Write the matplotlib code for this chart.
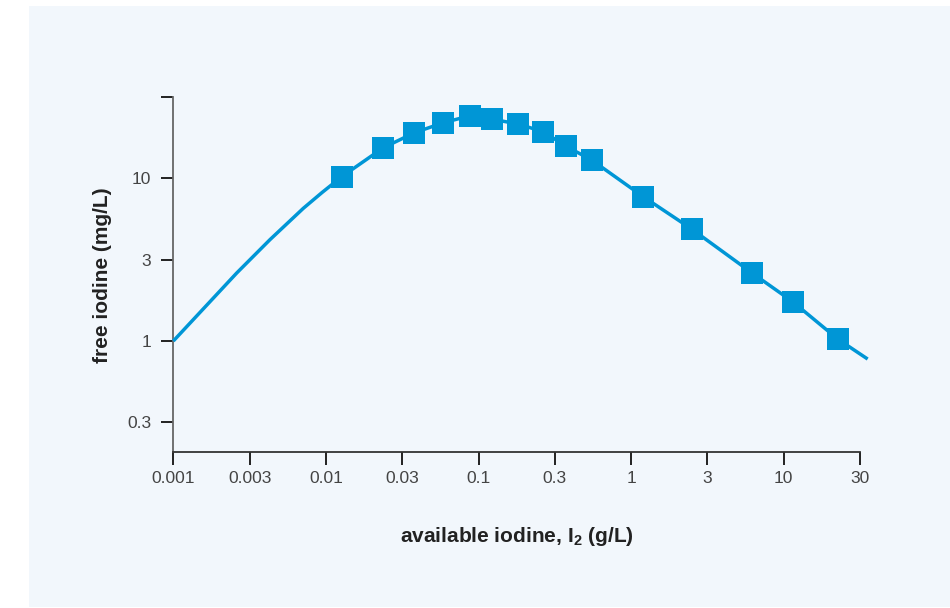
import matplotlib
matplotlib.use("Agg")
import matplotlib.pyplot as plt
from matplotlib.patches import Rectangle
import numpy as np

# ---- data ----
marker_x = [0.01269, 0.02377, 0.03796, 0.05878, 0.08795, 0.1221, 0.1823,
            0.2659, 0.3727, 0.5518, 1.202, 2.495, 6.170, 11.46, 22.59]
marker_y = [10.23, 15.42, 19.06, 21.97, 24.25, 23.14, 21.56,
            19.34, 15.79, 12.96, 7.71, 4.88, 2.63, 1.744, 1.029]

curve_x = [0.001, 0.002604, 0.004301, 0.007108, 0.00943] + marker_x + [35.5]
curve_y = [1.00, 2.62, 4.20, 6.54, 8.18] + marker_y + [0.775]

x_ticks = [0.001, 0.003, 0.01, 0.03, 0.1, 0.3, 1, 3, 10, 30]
x_tick_labels = ["0.001", "0.003", "0.01", "0.03", "0.1", "0.3", "1", "3", "10", "30"]
y_ticks = [0.3, 1, 3, 10, 30]
y_tick_labels = ["0.3", "1", "3", "10", ""]

# ---- style ----
plt.rcParams['font.family'] = ['Liberation Sans', 'DejaVu Sans']
plt.rcParams['mathtext.fontset'] = 'custom'
plt.rcParams['mathtext.rm'] = 'Liberation Sans'
plt.rcParams['mathtext.bf'] = 'Liberation Sans:bold'

BLUE = '#0096D6'
PANEL = '#F2F7FC'

fig = plt.figure(figsize=(9.5, 6.08), dpi=100)
fig.patch.set_facecolor('white')
fig.patches.append(Rectangle((29 / 950, 1 / 608), 1 - 29 / 950, (607 - 6) / 608,
                             transform=fig.transFigure, facecolor=PANEL,
                             edgecolor='none', zorder=-10))

ax = fig.add_axes([173.3 / 950, (608 - 452) / 608, (860 - 173.3) / 950, (452 - 97) / 608])
ax.set_zorder(5)
ax.set_facecolor('none')
ax.set_xscale('log')
ax.set_yscale('log')


# the "3" ticks sit at half decades in the reference
def half_decade(v):
    s = f"{v:g}"
    if s.lstrip('0.').startswith('3'):
        return 10 ** (np.log10(v / 3.0) + 0.5)
    return v


ax.set_xlim(0.001, 10 ** 1.5)
ax.set_ylim(10 ** -0.682, 10 ** 1.5)

ax.plot(curve_x, curve_y, color=BLUE, lw=2.5, solid_capstyle='butt',
        solid_joinstyle='round', clip_on=False, zorder=3)
ax.plot(marker_x, marker_y, linestyle='none', marker='s', markersize=15.5,
        color=BLUE, markeredgewidth=0, clip_on=False, zorder=4)

ax.set_xticks([half_decade(v) for v in x_ticks])
ax.set_xticklabels(x_tick_labels)
ax.set_yticks([half_decade(v) for v in y_ticks])
ax.set_yticklabels(y_tick_labels)
ax.minorticks_off()

for s in ['top', 'right']:
    ax.spines[s].set_visible(False)
ax.spines['left'].set_color('#666666')
ax.spines['bottom'].set_color('#333333')
ax.spines['left'].set_linewidth(1.3)
ax.spines['bottom'].set_linewidth(1.3)

ax.tick_params(axis='both', direction='out', length=9, width=1.4, color='#222222',
               labelcolor='#444444', labelsize=12.5)
ax.tick_params(axis='x', pad=5)
ax.tick_params(axis='y', pad=7)

ax.set_xlabel(r'available iodine, I$_\mathbf{2}$ (g/L)', fontsize=15,
              fontweight='bold', color='#222222', labelpad=28)
ax.set_ylabel('free iodine (mg/L)', fontsize=15, fontweight='bold',
              color='#222222')
ax.yaxis.set_label_coords(-0.0893, (452 - 275) / (452 - 97))

fig.savefig('out.png', dpi=100, facecolor=fig.get_facecolor())
